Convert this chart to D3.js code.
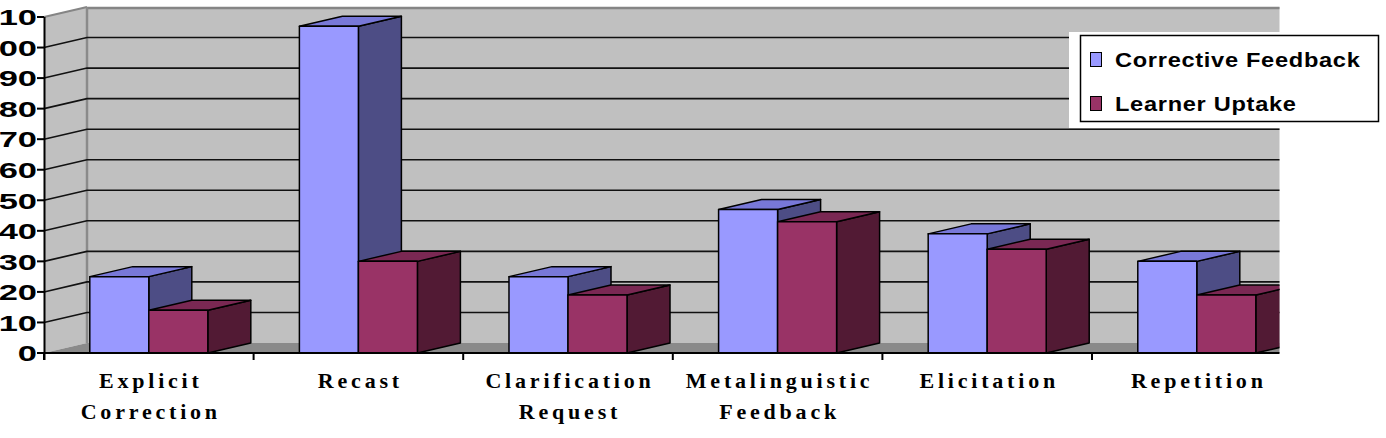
<!DOCTYPE html>
<html>
<head>
<meta charset="utf-8">
<script src="https://cdn.jsdelivr.net/npm/d3@7"></script>
<style>
  html, body { margin: 0; padding: 0; background: #fff; }
  svg { display: block; }
</style>
</head>
<body>
<svg id="chart" width="1386" height="438"></svg>
<script>
// ---- data ----
const categories = ["Explicit Correction", "Recast", "Clarification Request", "Metalinguistic Feedback", "Elicitation", "Repetition"];
const seriesNames = ["Corrective Feedback", "Learner Uptake"];
const correctiveFeedback = [25, 107, 25, 47, 39, 30];
const learnerUptake = [14, 30, 19, 43, 34, 19];
const yTicks = [0, 10, 20, 30, 40, 50, 60, 70, 80, 90, 100, 110];

// ---- styles ----
const palette = {
  "Corrective Feedback": { front: "#9999ff", top: "#7878d8", side: "#4d4d85" },
  "Learner Uptake": { front: "#993366", top: "#7a2853", side: "#521a34" }
};
const DX = 43, DY = -10;
const plotLeft = 44, catStep = 209.6, clipRight = 1279.5;

const svg = d3.select("#chart");
const y = d3.scaleLinear().domain([0, 110]).range([353, 17]);
const x0 = d3.scaleBand().domain(categories).range([plotLeft, plotLeft + catStep * categories.length]);
const x1 = d3.scaleBand().domain(seriesNames).range([0, x0.bandwidth()]).paddingInner(0).paddingOuter(0.776);

svg.append("defs").append("clipPath").attr("id", "plotClip")
  .append("rect").attr("x", 0).attr("y", 0).attr("width", clipRight).attr("height", 438);

const plot = svg.append("g").attr("clip-path", "url(#plotClip)");
const y0 = y(0), yTop = y(110);
const backRight = 1400;

// back wall
plot.append("rect").attr("x", plotLeft + DX).attr("y", yTop + DY)
  .attr("width", backRight - plotLeft - DX).attr("height", y0 - yTop)
  .attr("fill", "#c0c0c0");
// side wall
plot.append("polygon")
  .attr("points", [[plotLeft, yTop], [plotLeft + DX, yTop + DY], [plotLeft + DX, y0 + DY], [plotLeft, y0]].map(p => p.join(",")).join(" "))
  .attr("fill", "#c0c0c0");
// floor
plot.append("polygon")
  .attr("points", [[plotLeft, y0], [plotLeft + DX, y0 + DY], [backRight, y0 + DY], [backRight, y0]].map(p => p.join(",")).join(" "))
  .attr("fill", "#8a8a8a");
// wall top edge and corner
plot.append("line").attr("x1", plotLeft + DX).attr("x2", backRight).attr("y1", yTop + DY + 1).attr("y2", yTop + DY + 1)
  .attr("stroke", "#858585").attr("stroke-width", 2.5);
plot.append("line").attr("x1", plotLeft).attr("y1", yTop).attr("x2", plotLeft + DX).attr("y2", yTop + DY)
  .attr("stroke", "#858585").attr("stroke-width", 2);
plot.append("line").attr("x1", plotLeft + DX).attr("x2", plotLeft + DX).attr("y1", yTop + DY).attr("y2", y0 + DY)
  .attr("stroke", "#8a8a8a").attr("stroke-width", 2.5);

// gridlines
const gridVals = yTicks.filter(v => v > 0 && v < 110);
const grid = plot.append("g").attr("stroke", "#111").attr("stroke-width", 1.6).attr("fill", "none");
gridVals.forEach(v => {
  grid.append("path").attr("d", `M${plotLeft},${y(v)} L${plotLeft + DX},${y(v) + DY} L${backRight},${y(v) + DY}`);
});

// bars
const bars = plot.append("g").attr("stroke", "#000").attr("stroke-width", 1.5).attr("stroke-linejoin", "round");
const seriesData = { "Corrective Feedback": correctiveFeedback, "Learner Uptake": learnerUptake };
categories.forEach((cat, i) => {
  seriesNames.forEach(s => {
    const v = seriesData[s][i];
    const xl = x0(cat) + x1(s), w = x1.bandwidth(), yv = y(v);
    const c = palette[s];
    const pts = a => a.map(p => p.join(",")).join(" ");
    bars.append("polygon").attr("fill", c.side)
      .attr("points", pts([[xl + w, yv], [xl + w + DX, yv + DY], [xl + w + DX, y0 + DY], [xl + w, y0]]));
    bars.append("polygon").attr("fill", c.top)
      .attr("points", pts([[xl, yv], [xl + DX, yv + DY], [xl + w + DX, yv + DY], [xl + w, yv]]));
    bars.append("rect").attr("fill", c.front)
      .attr("x", xl).attr("y", yv).attr("width", w).attr("height", y0 - yv);
  });
});

// x axis line + ticks
const axisG = plot.append("g").attr("stroke", "#000").attr("stroke-width", 2);
axisG.append("line").attr("x1", plotLeft).attr("x2", backRight).attr("y1", y0).attr("y2", y0);
categories.forEach(cat => {
  axisG.append("line").attr("x1", x0(cat)).attr("x2", x0(cat)).attr("y1", y0).attr("y2", y0 + 7);
});
axisG.append("line").attr("x1", x0.range()[1]).attr("x2", x0.range()[1]).attr("y1", y0).attr("y2", y0 + 7);

// y axis
const yAxis = svg.append("g");
yAxis.append("line").attr("x1", plotLeft + 0.5).attr("x2", plotLeft + 0.5).attr("y1", yTop).attr("y2", y0 + 7)
  .attr("stroke", "#000").attr("stroke-width", 2);
yTicks.forEach(v => {
  yAxis.append("line").attr("x1", plotLeft - 7).attr("x2", plotLeft).attr("y1", y(v)).attr("y2", y(v))
    .attr("stroke", "#000").attr("stroke-width", 2);
  yAxis.append("text")
    .attr("transform", `translate(37,${y(v) + 8.3}) scale(1.5,1)`)
    .attr("text-anchor", "end")
    .attr("font-family", "Liberation Sans, Arial, sans-serif")
    .attr("font-weight", "bold").attr("font-size", 23).attr("fill", "#000")
    .text(v);
});

// category labels
categories.forEach(cat => {
  const words = cat.split(" ");
  const cx = x0(cat) + x0.bandwidth() / 2 + 2;
  const t = svg.append("text")
    .attr("text-anchor", "middle")
    .attr("font-family", "Liberation Serif, Times New Roman, serif")
    .attr("font-weight", "bold").attr("font-size", 22)
    .attr("letter-spacing", 3.8).attr("fill", "#000");
  words.forEach((wd, k) => {
    t.append("tspan").attr("x", cx).attr("y", 388 + k * 31).text(wd);
  });
});

// legend
const lg = svg.append("g");
lg.append("rect").attr("x", 1069).attr("y", 32).attr("width", 317).attr("height", 96).attr("fill", "#fff");
lg.append("rect").attr("x", 1080.5).attr("y", 35.5).attr("width", 298).attr("height", 86)
  .attr("fill", "#fff").attr("stroke", "#000").attr("stroke-width", 1.5);
seriesNames.forEach((s, k) => {
  const yy = 52 + k * 44;
  lg.append("rect").attr("x", 1090.5).attr("y", yy + 0.5).attr("width", 11).attr("height", 14)
    .attr("fill", palette[s].front).attr("stroke", "#000").attr("stroke-width", 1);
  lg.append("text")
    .attr("transform", `translate(1115,${yy + 15}) scale(1.18,1)`)
    .attr("font-family", "Liberation Sans, Arial, sans-serif")
    .attr("font-weight", "bold").attr("font-size", 20).attr("letter-spacing", 0.6)
    .attr("fill", "#000").text(s);
});
</script>
</body>
</html>
